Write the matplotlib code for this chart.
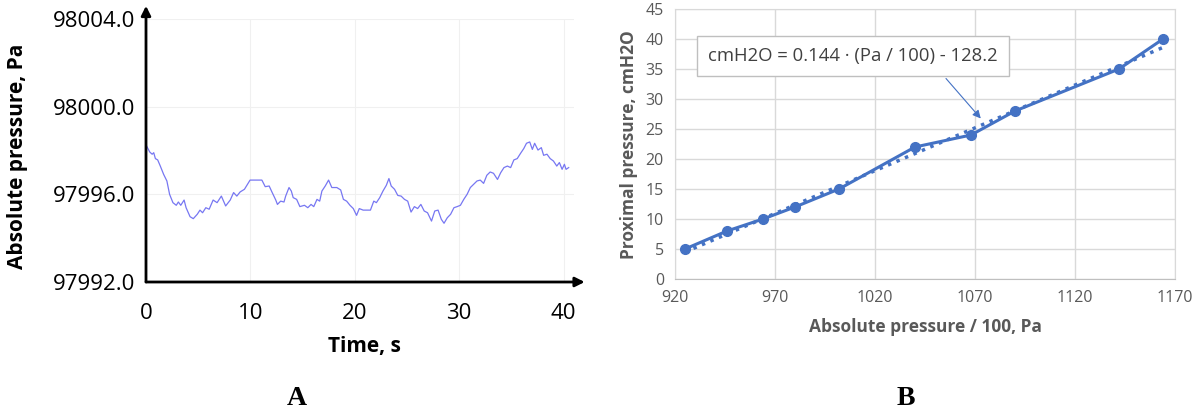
import matplotlib
matplotlib.use("Agg")
import numpy as np
import matplotlib.pyplot as plt

# Panel A: absolute pressure trace
time_s = [0.05, 0.36, 0.59, 0.74, 0.9, 1.12, 1.37, 1.69, 2.0, 2.26, 2.58, 2.9, 3.1, 3.33,
          3.65, 3.84, 4.22, 4.53, 4.91, 5.17, 5.42, 5.73, 6.05, 6.43, 6.81, 7.22, 7.63,
          8.07, 8.39, 8.7, 9.02, 9.43, 9.97, 11.1, 11.42, 11.8, 12.06, 12.43, 12.59, 12.9,
          13.22, 13.38, 13.63, 13.7, 13.92, 14.1, 14.43, 14.74, 15.18, 15.5, 15.81, 16.07,
          16.38, 16.64, 16.85, 17.17, 17.49, 17.8, 18.28, 18.65, 18.91, 19.22, 19.54,
          19.86, 20.17, 20.43, 20.8, 21.5, 21.82, 22.07, 22.39, 22.7, 23.02, 23.27, 23.49,
          23.81, 24.12, 24.44, 24.76, 25.07, 25.39, 25.71, 26.02, 26.33, 26.65, 26.97,
          27.35, 27.66, 27.98, 28.29, 28.55, 28.86, 29.18, 29.5, 29.81, 30.12, 30.44,
          30.76, 31.07, 31.39, 31.71, 32.02, 32.34, 32.65, 32.97, 33.29, 33.67, 33.98,
          34.29, 34.62, 34.93, 35.24, 35.56, 35.88, 36.19, 36.45, 36.76, 37.01, 37.23,
          37.55, 37.87, 38.09, 38.41, 38.72, 39.03, 39.35, 39.6, 39.86, 40.08, 40.24, 40.49]
pressure_pa = [97998.21, 97997.93, 97997.83, 97997.90, 97997.63, 97997.57, 97997.29, 97996.91,
               97996.61, 97996.00, 97995.62, 97995.50, 97995.65, 97995.50, 97995.74, 97995.39,
               97994.98, 97994.89, 97995.09, 97995.28, 97995.16, 97995.39, 97995.32, 97995.74,
               97995.62, 97995.92, 97995.47, 97995.74, 97996.08, 97995.92, 97996.11, 97996.23,
               97996.65, 97996.65, 97996.35, 97996.38, 97996.11, 97995.74, 97995.54, 97995.69,
               97995.65, 97995.92, 97996.23, 97996.31, 97996.15, 97995.85, 97995.77, 97995.44,
               97995.50, 97995.39, 97995.54, 97995.44, 97995.77, 97995.69, 97996.15, 97996.38,
               97996.65, 97996.31, 97996.31, 97996.20, 97995.77, 97995.69, 97995.50, 97995.35,
               97995.04, 97995.35, 97995.28, 97995.28, 97995.69, 97995.62, 97995.85, 97996.15,
               97996.41, 97996.72, 97996.38, 97996.23, 97995.95, 97995.92, 97995.77, 97995.69,
               97995.19, 97995.44, 97995.35, 97995.54, 97995.24, 97995.16, 97994.78, 97995.24,
               97995.28, 97994.86, 97994.68, 97994.93, 97995.09, 97995.39, 97995.44, 97995.50,
               97995.77, 97996.00, 97996.31, 97996.46, 97996.61, 97996.65, 97996.50, 97996.87,
               97997.02, 97996.96, 97996.68, 97996.99, 97997.22, 97997.29, 97997.22, 97997.57,
               97997.63, 97997.87, 97998.09, 97998.33, 97998.39, 97998.05, 97998.33, 97998.02,
               97998.13, 97997.78, 97997.83, 97997.63, 97997.52, 97997.29, 97997.45, 97997.14,
               97997.37, 97997.14, 97997.22]
a_xticks = [0, 10, 20, 30, 40]
a_yticks = [97992, 97996, 98000, 98004]

# Panel B: calibration points and the dotted trendline ends
abs_pa_100 = [925, 946, 964, 980, 1002, 1040, 1068, 1090, 1142, 1164]
prox_cmh2o = [5, 8, 10, 12, 15, 22, 24, 28, 35, 40]
trend_x = [925, 1164]
trend_y = [4.5, 38.6]
fit_label = "cmH2O = 0.144 · (Pa / 100) - 128.2"
b_xticks = [920, 970, 1020, 1070, 1120, 1170]
b_yticks = [0, 5, 10, 15, 20, 25, 30, 35, 40, 45]

plt.rcParams['font.family'] = ['Open Sans', 'DejaVu Sans']

fig = plt.figure(figsize=(12, 4.15), dpi=100)

# ---- Panel A ----
axA = fig.add_axes([146 / 1200, 1 - 282 / 415, 428 / 1200, 263 / 415])
axA.plot(time_s, pressure_pa, color='#7777f2', lw=0.9)
axA.set_xlim(0, 41)
axA.set_ylim(97992, 98004)
axA.set_xticks(a_xticks)
axA.set_yticks(a_yticks)
axA.set_yticklabels([f"{v:.1f}" for v in a_yticks])
axA.tick_params(labelsize=16, length=0)
axA.tick_params(axis='x', pad=15)
axA.tick_params(axis='y', pad=8)
axA.grid(True, color='#f0f0f0', lw=0.8)
for s in axA.spines.values():
    s.set_visible(False)
axA.annotate('', xy=(0, 1.05), xytext=(0, 0), xycoords='axes fraction',
             arrowprops=dict(arrowstyle='-|>', color='black', lw=2, mutation_scale=14,
                             shrinkA=0, shrinkB=0), annotation_clip=False)
axA.annotate('', xy=(1.025, 0), xytext=(0, 0), xycoords='axes fraction',
             arrowprops=dict(arrowstyle='-|>', color='black', lw=2, mutation_scale=14,
                             shrinkA=0, shrinkB=0), annotation_clip=False)
axA.set_xlabel("Time, s", fontsize=15, fontweight='bold')
axA.xaxis.set_label_coords((364 - 146) / 428, -(336 - 282) / 263)
axA.set_ylabel("Absolute pressure, Pa", fontsize=15, fontweight='bold')
axA.yaxis.set_label_coords((28 - 146) / 428, (282 - 156) / 263)

# ---- Panel B ----
blue = '#4472C4'
axB = fig.add_axes([675 / 1200, 1 - 279 / 415, 500 / 1200, 270 / 415])
axB.plot(trend_x, trend_y, ls=':', color=blue, lw=2.5)
axB.plot(abs_pa_100, prox_cmh2o, color=blue, lw=2.2, marker='o', ms=7)
axB.set_xlim(920, 1170)
axB.set_ylim(0, 45)
axB.set_xticks(b_xticks)
axB.set_yticks(b_yticks)
axB.tick_params(labelsize=11.5, length=0, colors='#595959', pad=8)
axB.grid(True, color='#d9d9d9', lw=1)
for name, s in axB.spines.items():
    s.set_color('#d9d9d9')
axB.spines['bottom'].set_color('#bfbfbf')
axB.set_xlabel("Absolute pressure / 100, Pa", fontsize=12.5, fontweight='bold',
               color='#595959')
axB.xaxis.set_label_coords(0.5, -(318 - 279) / 270)
axB.set_ylabel("Proximal pressure, cmH2O", fontsize=12.5, fontweight='bold',
               color='#595959')
axB.yaxis.set_label_coords((638 - 675) / 500, (279 - 145) / 270)
axB.annotate(fit_label, xy=(1073.8, 26.4), xytext=(1009, 37.2),
             fontsize=13.3, color='#404040', ha='center', va='center',
             bbox=dict(boxstyle='square,pad=0.6', fc='white', ec='#bfbfbf', lw=1),
             arrowprops=dict(arrowstyle='-|>', color=blue, lw=0.8, mutation_scale=12,
                             relpos=(0.78, 0)))

# panel letters
fig.text(297 / 1200, 1 - 398 / 415, "A", fontsize=20, fontweight='bold',
         family='Liberation Serif', ha='center', va='center')
fig.text(906 / 1200, 1 - 398 / 415, "B", fontsize=20, fontweight='bold',
         family='Liberation Serif', ha='center', va='center')

fig.savefig("out.png", dpi=100)
